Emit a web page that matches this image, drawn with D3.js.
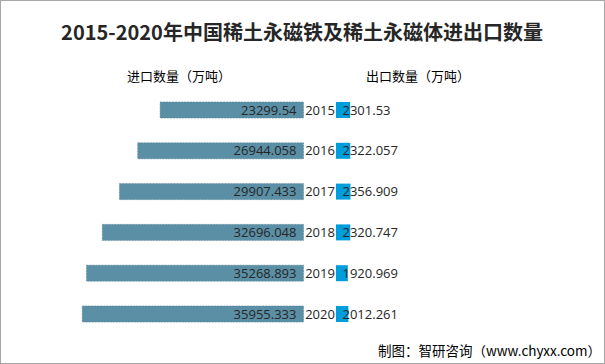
<!DOCTYPE html>
<html><head><meta charset="utf-8">
<script src="https://cdn.jsdelivr.net/npm/d3@7"></script>
<style>body{margin:0;background:#fff}svg{display:block}</style>
</head><body>
<script>
const years = ["2015","2016","2017","2018","2019","2020"];
const importLabels = ["23299.54","26944.058","29907.433","32696.048","35268.893","35955.333"];
const exportLabels = ["2301.53","2322.057","2356.909","2320.747","1920.969","2012.261"];
const importVals = importLabels.map(Number);
const exportVals = exportLabels.map(Number);
const title = "2015-2020年中国稀土永磁铁及稀土永磁体进出口数量";
const importHead = "进口数量（万吨）";
const exportHead = "出口数量（万吨）";
const source = "制图：智研咨询（www.chyxx.com）";

const W = 605, H = 364;
const svg = d3.select("body").append("svg").attr("width", W).attr("height", H);
svg.append("rect").attr("x",0.5).attr("y",0.5).attr("width",W-1).attr("height",H-1)
  .attr("fill","#fff").attr("stroke","#a6a6a6");

const cjk = "'Noto Sans CJK SC', sans-serif";
const num = "'Open Sans','Noto Sans', sans-serif";

svg.append("text").attr("x",302).attr("y",40).attr("text-anchor","middle")
  .attr("font-family",cjk).attr("font-weight","bold").attr("font-size",20)
  .attr("fill","#262626").text(title);

const y = d3.scalePoint().domain(years).range([110, 314]);
const bh = 16;
const zeroL = 303.5, zeroR = 336;
const xImp = d3.scaleLinear().domain([0, 36000]).range([0, 221.5]);
const xExp = d3.scaleLinear().domain([0, 36000]).range([0, 221.5]);

svg.append("text").attr("x",127).attr("y",81).attr("font-family",cjk).attr("font-size",13)
  .attr("fill","#000").text(importHead);
svg.append("text").attr("x",366).attr("y",81).attr("font-family",cjk).attr("font-size",13)
  .attr("fill","#000").text(exportHead);

const g = svg.append("g");
years.forEach((yr,i)=>{
  const cy = y(yr);
  const wI = xImp(importVals[i]);
  g.append("rect").attr("x",zeroL-wI).attr("y",cy-bh/2).attr("width",wI).attr("height",bh)
    .attr("fill","#5b8fa5").attr("stroke","#4d7f95").attr("stroke-width",0.6)
    .attr("stroke-dasharray","2,1");
  const wE = xExp(exportVals[i]);
  g.append("rect").attr("x",zeroR).attr("y",cy-bh/2).attr("width",wE).attr("height",bh)
    .attr("fill","#009ddc");
  g.append("text").attr("x",296.5).attr("y",cy+4.5).attr("text-anchor","end")
    .attr("font-family",num).attr("font-size",13).attr("fill","#262626").text(importLabels[i]);
  g.append("text").attr("x",320).attr("y",cy+4.5).attr("text-anchor","middle")
    .attr("font-family",num).attr("font-size",13).attr("fill","#262626").text(yr);
  g.append("text").attr("x",342.5).attr("y",cy+4.5)
    .attr("font-family",num).attr("font-size",13).attr("fill","#262626").text(exportLabels[i]);
});

svg.append("text").attr("x",601).attr("y",356).attr("text-anchor","end")
  .attr("font-family",cjk).attr("font-size",13.5).attr("fill","#000").text(source);
</script>
</body></html>
